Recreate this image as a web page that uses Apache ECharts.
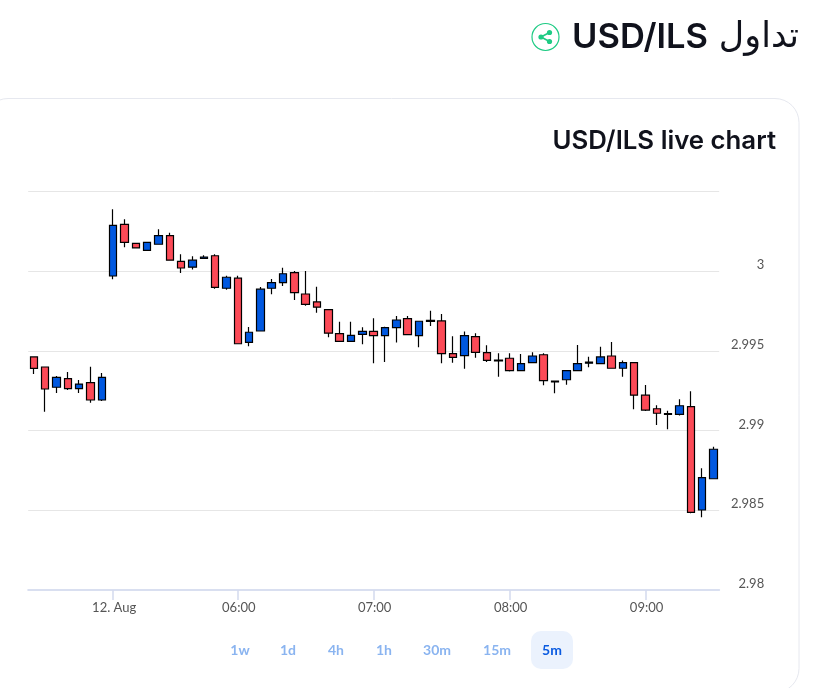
<!DOCTYPE html>
<html><head><meta charset="utf-8">
<style>html,body{margin:0;padding:0;background:#fff;overflow:hidden}#c{width:822px;height:688px}</style>
<script src="https://cdn.jsdelivr.net/npm/echarts@6/dist/echarts.min.js"></script>
</head><body><div id="c"></div>
<script>
const categories = ['21:25','21:30','21:35','21:40','21:45','21:50','21:55','12. Aug','05:10','05:15','05:20','05:25','05:30','05:35','05:40','05:45','05:50','05:55','06:00','06:05','06:10','06:15','06:20','06:25','06:30','06:35','06:40','06:45','06:50','06:55','07:00','07:05','07:10','07:15','07:20','07:25','07:30','07:35','07:40','07:45','07:50','07:55','08:00','08:05','08:10','08:15','08:20','08:25','08:30','08:35','08:40','08:45','08:50','08:55','09:00','09:05','09:10','09:15','09:20','09:25','09:30'];
const tickLabels = ['12. Aug','06:00','07:00','08:00','09:00'];
const priceTicks = [2.98,2.985,2.99,2.995,3,3.005];
const opens = [2.99462,2.99399,2.99272,2.99326,2.99263,2.99301,2.99192,2.9997,3.00294,3.00175,3.00131,3.00169,3.00223,3.00062,3.00025,3.00081,3.00097,2.99893,2.99956,2.99554,2.99625,2.99893,2.99928,2.99991,2.99857,2.99807,2.99759,2.99608,2.9956,2.99604,2.99623,2.99596,2.99646,2.99702,2.99596,2.99685,2.99688,2.99483,2.9947,2.99589,2.99489,2.99438,2.99454,2.99376,2.99426,2.99476,2.99311,2.99319,2.99376,2.99423,2.9942,2.99468,2.99391,2.99426,2.99222,2.99137,2.99102,2.99102,2.9915,2.98502,2.98698];
const closes = [2.9939,2.99261,2.99334,2.99263,2.99292,2.99192,2.99334,3.00288,3.00181,3.00146,3.00181,3.00223,3.00069,3.0002,3.00069,3.00089,2.99899,2.99962,2.99545,2.99617,2.99887,2.99928,2.99984,2.99865,2.99792,2.99774,2.99611,2.9956,2.99598,2.99623,2.99596,2.99646,2.99694,2.99602,2.99686,2.99691,2.99483,2.9946,2.99596,2.99491,2.99441,2.99443,2.99376,2.9942,2.99468,2.99313,2.99305,2.99376,2.9942,2.99429,2.99462,2.99391,2.99426,2.99222,2.99129,2.99109,2.99107,2.99156,2.98487,2.98705,2.98883];
const lows = [2.99355,2.99119,2.99236,2.99255,2.99236,2.99175,2.99186,2.99949,3.0015,3.00146,3.00131,3.00169,3.00069,2.99989,3.0001,3.00081,2.9989,2.99884,2.99545,2.99529,2.99625,2.99855,2.99907,2.99819,2.99784,2.9974,2.99585,2.9956,2.9956,2.99542,2.99422,2.9943,2.99552,2.99602,2.99523,2.99656,2.99422,2.99426,2.99388,2.99457,2.9943,2.99338,2.9937,2.99376,2.99426,2.99284,2.99234,2.99288,2.99376,2.99397,2.9942,2.99391,2.99338,2.99134,2.99123,2.99035,2.99008,2.99094,2.98481,2.98456,2.98698];
const highs = [2.99462,2.99399,2.99343,2.99368,2.99318,2.99401,2.99361,3.00388,3.00326,3.00175,3.00181,3.00263,3.00242,3.00106,3.00094,3.001,3.00106,2.99972,2.99972,2.9965,2.99901,2.99951,3.00022,3.00001,3.00001,2.99903,2.99759,2.99683,2.99683,2.99648,2.99705,2.99652,2.99719,2.99719,2.99686,2.99752,2.99732,2.99592,2.99621,2.99611,2.99535,2.99485,2.99485,2.99481,2.99491,2.99485,2.99311,2.99376,2.99537,2.99464,2.99526,2.99556,2.99439,2.99426,2.99286,2.99159,2.99125,2.99196,2.99247,2.98764,2.98899];
const intervalButtons = ['1w','1d','4h','1h','30m','15m','5m'];
const pageTitleArabic = 'تداول';
const pageTitlePair = 'USD/ILS';
const chartTitle = 'USD/ILS live chart';

const font = 'Lato, "DejaVu Sans", sans-serif';
const candles = categories.map((_, i) => [opens[i], closes[i], lows[i], highs[i]]);
const btnX = [240,288,336,384,437,497,552];
const chart = echarts.init(document.getElementById('c'), null, {renderer:'canvas'});
const graphic = [
  {type:'rect',z:0,shape:{x:-16,y:98.5,width:815,height:594,r:24},style:{fill:'#fff',stroke:'#e6e8ef',lineWidth:1}},
  {type:'text',z:5,style:{text:pageTitleArabic,x:799,y:38,align:'right',verticalAlign:'middle',fontFamily:'"DejaVu Sans",sans-serif',fontSize:35,fontWeight:400,fill:'#10121c'}},
  {type:'text',z:5,style:{text:pageTitlePair,x:708,y:38,align:'right',verticalAlign:'middle',fontFamily:'Inter,sans-serif',fontSize:34.5,fontWeight:600,fill:'#10121c'}},
  {type:'text',z:5,style:{text:chartTitle,x:776,y:141.5,align:'right',verticalAlign:'middle',fontFamily:'Inter,sans-serif',fontSize:25.8,fontWeight:600,fill:'#10121c'}},
  {type:'circle',z:5,shape:{cx:545.5,cy:37,r:13.5},style:{fill:'#fff',stroke:'#1ecb84',lineWidth:1.2}},
  {type:'line',z:5,shape:{x1:541,y1:37,x2:549.5,y2:32.5},style:{stroke:'#1ecb84',lineWidth:1.6}},
  {type:'line',z:5,shape:{x1:541,y1:37,x2:549.5,y2:41.5},style:{stroke:'#1ecb84',lineWidth:1.6}},
  {type:'circle',z:6,shape:{cx:541,cy:37,r:2.6},style:{fill:'#1ecb84'}},
  {type:'circle',z:6,shape:{cx:549.5,cy:32.5,r:2.6},style:{fill:'#1ecb84'}},
  {type:'circle',z:6,shape:{cx:549.5,cy:41.5,r:2.6},style:{fill:'#1ecb84'}},
  {type:'rect',z:1,shape:{x:531,y:631,width:42,height:38,r:10},style:{fill:'#ebf2fd'}}
];
intervalButtons.forEach((t,i)=>graphic.push({type:'text',z:5,style:{text:t,x:btnX[i],y:650.5,align:'center',verticalAlign:'middle',fontFamily:font,fontSize:14,fontWeight:700,fill:i===6?'#0b5be0':'#8ab4f0'}}));

chart.setOption({
  animation:false,
  backgroundColor:'#fff',
  graphic,
  grid:{left:28.2,right:102.8,top:191.5,bottom:98,containLabel:false},
  xAxis:{
    type:'category',data:categories,boundaryGap:true,
    axisLine:{lineStyle:{color:'#d9dff0',width:2}},
    axisTick:{show:true,length:10,alignWithLabel:true,interval:(i,v)=>tickLabels.includes(v),lineStyle:{color:'#d3daee',width:1.5}},
    axisLabel:{interval:(i,v)=>tickLabels.includes(v),color:'#555',fontFamily:font,fontSize:13,margin:11,letterSpacing:0.3,padding:[0,0,0,2]},
    splitLine:{show:false}
  },
  yAxis:{
    type:'value',position:'right',min:priceTicks[0],max:priceTicks[priceTicks.length-1],interval:0.005,
    axisLine:{show:false},axisTick:{show:false},
    splitLine:{lineStyle:{color:'#e6e6e6',width:1}},
    axisLabel:{margin:45,align:'right',verticalAlign:'bottom',color:'#555',fontFamily:font,fontSize:13,lineHeight:12,letterSpacing:0.3,
      formatter:v=>v>=3.004?'':String(+v.toFixed(3))}
  },
  series:[{
    type:'candlestick',data:candles,barWidth:8,
    itemStyle:{color:'#0058e0',color0:'#fc4a57',borderColor:'#000',borderColor0:'#000',borderColorDoji:'#000',borderWidth:1.2}
  }]
});
</script></body></html>
